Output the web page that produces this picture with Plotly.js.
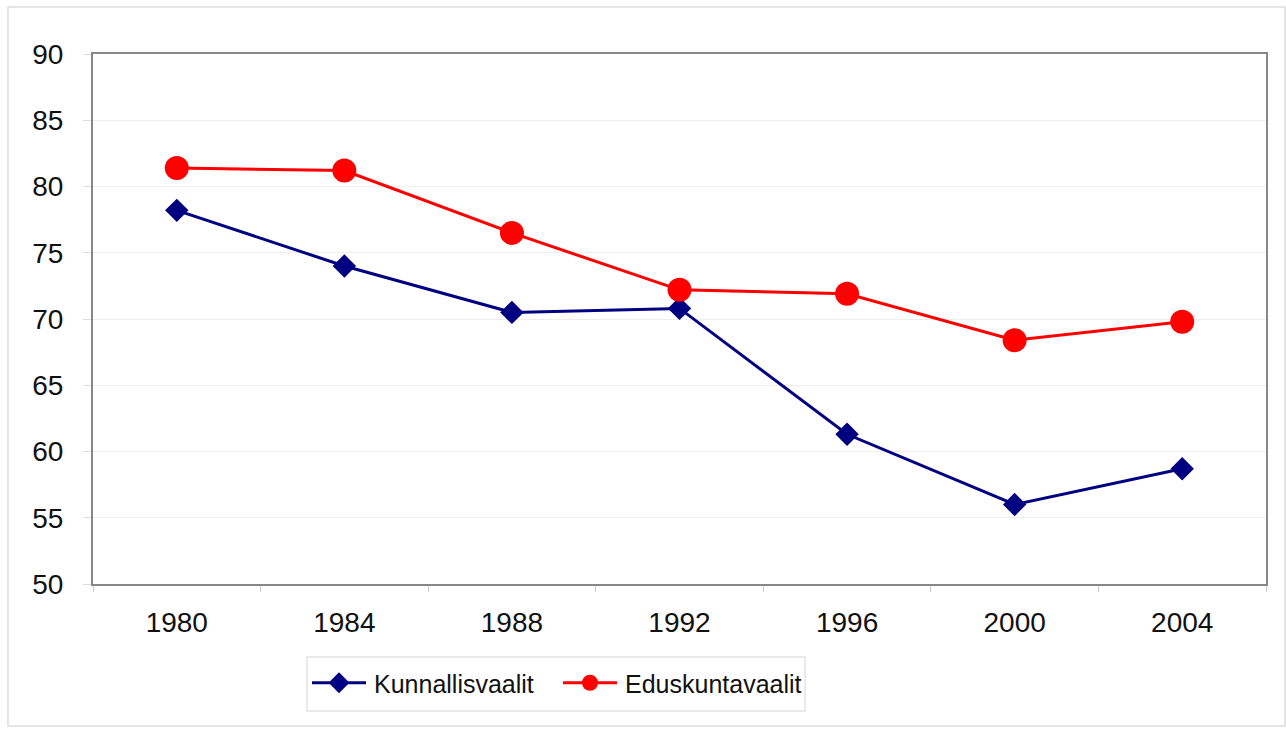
<!DOCTYPE html>
<html>
<head>
<meta charset="utf-8">
<script src="https://cdn.plot.ly/plotly-3.0.1.min.js"></script>
<style>
html,body{margin:0;padding:0;background:#fff;}
#chart{width:1286px;height:731px;}
</style>
</head>
<body>
<div id="chart"></div>
<script>
var years = ['1980','1984','1988','1992','1996','2000','2004'];
var kunnallisvaalit = [78.2, 74.0, 70.5, 70.8, 61.3, 56.0, 58.7];
var eduskuntavaalit = [81.4, 81.2, 76.5, 72.2, 71.9, 68.4, 69.8];
var yTicks = [50, 55, 60, 65, 70, 75, 80, 85, 90];

var traces = [
  {
    x: years, y: kunnallisvaalit, name: 'Kunnallisvaalit', type: 'scatter', mode: 'lines+markers',
    line: {color: '#000080', width: 3},
    marker: {symbol: 'diamond', size: 18, color: '#000080'}
  },
  {
    x: years, y: eduskuntavaalit, name: 'Eduskuntavaalit', type: 'scatter', mode: 'lines+markers',
    line: {color: '#FF0000', width: 3},
    marker: {symbol: 'circle', size: 24, color: '#FF0000'}
  }
];

var layout = {
  width: 1286, height: 731,
  margin: {l: 93, r: 20, t: 54, b: 147},
  paper_bgcolor: '#fff', plot_bgcolor: '#fff',
  font: {family: 'Liberation Sans, Arial, sans-serif', color: '#111', size: 25},
  showlegend: true,
  xaxis: {
    type: 'category', range: [-0.5, 6.5],
    tickson: 'boundaries', ticks: 'outside', ticklen: 6, tickcolor: '#ccc', tickwidth: 1,
    showline: true, linecolor: '#888', linewidth: 2, mirror: true,
    showgrid: false, zeroline: false,
    tickfont: {size: 28}, ticklabelstandoff: 12
  },
  yaxis: {
    range: [50, 90], tickvals: yTicks, ticktext: yTicks.map(String),
    ticks: 'outside', ticklen: 8, tickcolor: '#ddd', tickwidth: 1,
    showline: true, linecolor: '#888', linewidth: 2, mirror: true,
    showgrid: true, gridcolor: '#eeeeee', gridwidth: 1, zeroline: false,
    tickfont: {size: 28}, ticklabelstandoff: 14
  },
  legend: {
    orientation: 'h', x: 0.185, xanchor: 'left', y: -0.1868, yanchor: 'middle',
    bgcolor: 'rgba(0,0,0,0)', borderwidth: 0,
    font: {size: 25}, itemwidth: 54, entrywidth: 182
  },
  shapes: [
    {
      type: 'rect', xref: 'paper', yref: 'paper',
      x0: -0.0725, x1: 1.0162, y0: -0.268, y1: 1.0887,
      line: {color: '#dddddd', width: 1.5}, fillcolor: 'rgba(0,0,0,0)', layer: 'below'
    },
    {
      type: 'rect', xref: 'paper', yref: 'paper',
      x0: (307 - 93) / 1173, x1: (805 - 93) / 1173, y0: (584 - 711) / 530, y1: (584 - 657) / 530,
      line: {color: '#e2e2e2', width: 1.5}, fillcolor: 'rgba(0,0,0,0)', layer: 'below'
    }
  ]
};

Plotly.newPlot('chart', traces, layout, {displayModeBar: false, staticPlot: true}).then(function (gd) {
  var lines = gd.querySelectorAll('.legend .legendlines path');
  lines.forEach(function (p) { p.setAttribute('d', 'M2,0h54'); });
  var pts = gd.querySelectorAll('.legend .legendpoints path.scatterpts');
  pts.forEach(function (p) { p.setAttribute('transform', 'translate(29,0)'); });
});
</script>
</body>
</html>
